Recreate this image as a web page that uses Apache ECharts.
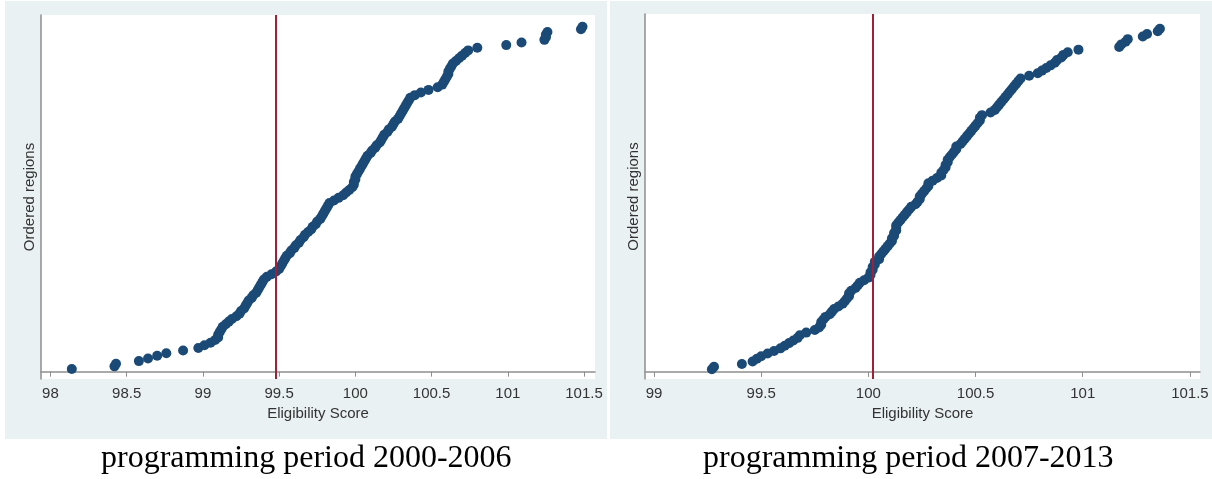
<!DOCTYPE html>
<html>
<head>
<meta charset="utf-8">
<title>Eligibility Score</title>
<script src="https://cdn.jsdelivr.net/npm/echarts@6/dist/echarts.min.js"></script>
<style>
    html, body {
        margin: 0;
        padding: 0;
        background: #ffffff;
    }

    #chart {
        width: 1212px;
        height: 479px;
    }
</style>
</head>
<body>
<div id="chart"></div>
<script>
// eligibility scores of the regions, sorted (rank = position + 1)
const scores2000 = [
    98.14, 98.42, 98.43, 98.58, 98.64, 98.70, 98.76, 98.87, 98.97, 99.01,
    99.05, 99.08, 99.10, 99.10, 99.11, 99.12, 99.13, 99.15, 99.17, 99.19,
    99.22, 99.24, 99.25, 99.27, 99.28, 99.29, 99.30, 99.32, 99.33, 99.35,
    99.36, 99.37, 99.38, 99.39, 99.40, 99.42, 99.45, 99.48, 99.50, 99.51,
    99.52, 99.53, 99.54, 99.55, 99.57, 99.58, 99.60, 99.61, 99.63, 99.64,
    99.66, 99.67, 99.69, 99.71, 99.72, 99.74, 99.75, 99.77, 99.78, 99.79,
    99.80, 99.81, 99.82, 99.83, 99.86, 99.89, 99.92, 99.94, 99.96, 99.98,
    99.99, 99.99, 100.00, 100.00, 100.01, 100.02, 100.03, 100.04, 100.05, 100.06,
    100.07, 100.08, 100.10, 100.11, 100.13, 100.14, 100.16, 100.17, 100.18, 100.19,
    100.21, 100.22, 100.24, 100.25, 100.26, 100.28, 100.29, 100.30, 100.31, 100.32,
    100.33, 100.34, 100.35, 100.36, 100.39, 100.43, 100.48, 100.54, 100.57, 100.58,
    100.59, 100.60, 100.61, 100.61, 100.62, 100.63, 100.64, 100.66, 100.68, 100.70,
    100.72, 100.74, 100.80, 100.99, 101.09, 101.24, 101.25, 101.25, 101.26, 101.48,
    101.49
]
const scores2007 = [
    99.27, 99.28, 99.41, 99.46, 99.48, 99.50, 99.53, 99.56, 99.59, 99.61,
    99.63, 99.65, 99.67, 99.68, 99.71, 99.75, 99.77, 99.78, 99.78, 99.79,
    99.80, 99.82, 99.83, 99.84, 99.86, 99.88, 99.89, 99.90, 99.91, 99.91,
    99.92, 99.94, 99.95, 99.96, 99.98, 100.00, 100.01, 100.01, 100.02, 100.02,
    100.03, 100.03, 100.05, 100.05, 100.06, 100.07, 100.08, 100.09, 100.10, 100.11,
    100.11, 100.12, 100.12, 100.13, 100.13, 100.13, 100.14, 100.15, 100.16, 100.17,
    100.18, 100.19, 100.20, 100.22, 100.23, 100.24, 100.24, 100.25, 100.26, 100.27,
    100.28, 100.28, 100.30, 100.32, 100.34, 100.34, 100.35, 100.36, 100.36, 100.37,
    100.37, 100.38, 100.39, 100.40, 100.41, 100.41, 100.43, 100.44, 100.45, 100.46,
    100.47, 100.48, 100.49, 100.50, 100.51, 100.52, 100.52, 100.53, 100.57, 100.59,
    100.60, 100.61, 100.62, 100.63, 100.64, 100.65, 100.66, 100.67, 100.68, 100.69,
    100.70, 100.71, 100.75, 100.79, 100.81, 100.83, 100.85, 100.87, 100.88, 100.90,
    100.91, 100.93, 100.98, 101.17, 101.18, 101.20, 101.21, 101.28, 101.30, 101.35,
    101.36
]
// thresholds drawn as the vertical line
const cutoffs = [99.48, 100.02]
// x axis tick labels
const ticks2000 = [98, 98.5, 99, 99.5, 100, 100.5, 101, 101.5]
const ticks2007 = [99, 99.5, 100, 100.5, 101, 101.5]
const captions = ['programming period 2000-2006', 'programming period 2007-2013']

const navy = '#1b4a77'
const cutColor = '#a21f3a'
const axisGray = '#8e8e8e'
const panelBg = '#eaf1f3'
const sans = 'Liberation Sans, Arial'

function toPoints(list) {
    return list.map((v, i) => [v, i + 1])
}

function makeXAxis(idx, min, max, ticks) {
    return {
        gridIndex: idx,
        type: 'value',
        min: min,
        max: max,
        name: 'Eligibility Score',
        nameLocation: 'middle',
        nameGap: 24,
        nameTextStyle: {color: '#333', fontSize: 15, fontFamily: sans},
        axisLine: {show: true, lineStyle: {color: axisGray, width: 1.5}},
        axisTick: {show: true, length: 5, customValues: ticks, lineStyle: {color: axisGray}},
        axisLabel: {
            customValues: ticks,
            margin: 7,
            color: '#333',
            fontSize: 15,
            fontFamily: sans
        },
        splitLine: {show: false}
    }
}

function makeYAxis(idx, min, max) {
    return {
        gridIndex: idx,
        type: 'value',
        min: min,
        max: max,
        name: 'Ordered regions',
        nameLocation: 'middle',
        nameGap: 4,
        nameRotate: 90,
        nameTextStyle: {color: '#333', fontSize: 15, fontFamily: sans},
        axisLine: {show: true, lineStyle: {color: axisGray, width: 1.5}},
        axisTick: {show: false},
        axisLabel: {show: false},
        splitLine: {show: false}
    }
}

function makeSeries(idx, list, cut) {
    return {
        type: 'scatter',
        xAxisIndex: idx,
        yAxisIndex: idx,
        symbolSize: 10,
        itemStyle: {color: navy, opacity: 1},
        data: toPoints(list),
        silent: true,
        markLine: {
            silent: true,
            symbol: 'none',
            label: {show: false},
            lineStyle: {color: cutColor, width: 2, type: 'solid'},
            data: [{xAxis: cut}]
        }
    }
}

const chart = echarts.init(document.getElementById('chart'))

chart.setOption({
    animation: false,
    backgroundColor: '#ffffff',
    graphic: [
        //panel backgrounds
        {type: 'rect', z: -10, shape: {x: 5, y: 1, width: 602, height: 438}, style: {fill: panelBg}},
        {type: 'rect', z: -10, shape: {x: 610, y: 1, width: 602, height: 438}, style: {fill: panelBg}},
        //plot regions
        {type: 'rect', z: -9, shape: {x: 41, y: 15, width: 554, height: 364}, style: {fill: '#ffffff'}},
        {type: 'rect', z: -9, shape: {x: 645, y: 14, width: 555, height: 365}, style: {fill: '#ffffff'}},
        //captions
        {
            type: 'text', left: 306 - 205, top: 443,
            style: {text: captions[0], font: '32px "Liberation Serif", "Times New Roman", serif', fill: '#000'}
        },
        {
            type: 'text', left: 908 - 205, top: 443,
            style: {text: captions[1], font: '32px "Liberation Serif", "Times New Roman", serif', fill: '#000'}
        }
    ],
    grid: [
        {left: 41, top: 15, width: 554, height: 364},
        {left: 645, top: 14, width: 555, height: 365}
    ],
    xAxis: [
        makeXAxis(0, 97.938, 101.572, ticks2000),
        makeXAxis(1, 98.958, 101.547, ticks2007)
    ],
    yAxis: [
        makeYAxis(0, -2.8, 135.44),
        makeYAxis(1, -2.7, 136.6)
    ],
    series: [
        makeSeries(0, scores2000, cutoffs[0]),
        makeSeries(1, scores2007, cutoffs[1])
    ]
})
</script>
</body>
</html>
